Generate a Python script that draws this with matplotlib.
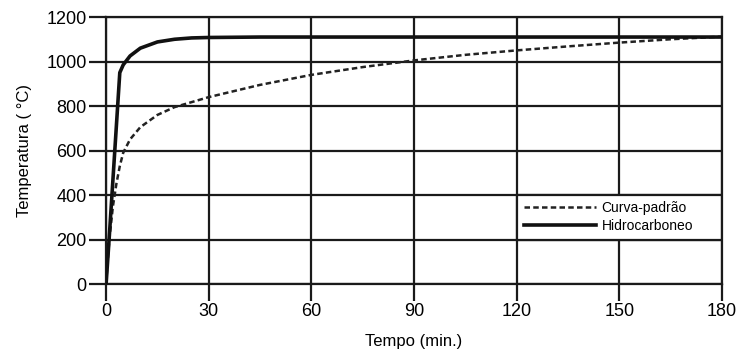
import matplotlib
matplotlib.use("Agg")
from matplotlib import pyplot as plt
from matplotlib.patches import Rectangle

plt.rcParams['font.family'] = ['Liberation Sans Narrow', 'Liberation Sans', 'DejaVu Sans']

# Curva-padrão (standard fire curve)
padrao_t = [0, 0.5, 1, 2, 3, 4, 5, 7, 10, 15, 20, 30, 45, 60, 75, 90, 105, 120, 135, 150, 165, 180]
padrao_T = [0, 110, 210, 350, 450, 530, 590, 650, 705, 760, 795, 840, 895, 940, 975, 1005, 1030, 1050, 1068, 1085, 1100, 1112]

# Hidrocarboneto curve
hidro_t = [0, 1, 2, 3, 4, 5, 7, 10, 15, 20, 25, 30, 45, 60, 90, 120, 150, 180]
hidro_T = [0, 230, 470, 710, 950, 985, 1025, 1060, 1088, 1100, 1106, 1108, 1110, 1110, 1110, 1110, 1110, 1110]

x_ticks = [0, 30, 60, 90, 120, 150, 180]
y_ticks = [0, 200, 400, 600, 800, 1000, 1200]

fig = plt.figure(figsize=(7.42, 3.56), dpi=100)
ax = fig.add_axes([0.143, 0.2022, 0.830, 0.750])

ax.set_xlim(0, 180)
ax.set_ylim(0, 1200)
ax.set_xticks(x_ticks)
ax.set_yticks(y_ticks)
ax.grid(True, color="#1a1a1a", linewidth=1.6, zorder=1)
ax.set_axisbelow(True)
for s in ax.spines.values():
    s.set_color("#1a1a1a")
    s.set_linewidth(1.6)
ax.tick_params(axis="both", length=12, width=1.6, color="#1a1a1a", labelsize=13, pad=2)

# white cell behind legend (hides the 150 gridline there)
ax.add_patch(Rectangle((120, 200), 60, 200, facecolor="white", edgecolor="#1a1a1a",
                       linewidth=1.6, zorder=1.5))

ax.plot(padrao_t, padrao_T, color="#222222", linewidth=1.8, linestyle=(0, (2.2, 1.3)),
        label="Curva-padrão", zorder=3)
ax.plot(hidro_t, hidro_T, color="#111111", linewidth=2.6, label="Hidrocarboneo", zorder=4)

leg = ax.legend(loc="center left", bbox_to_anchor=(120.5, 300), bbox_transform=ax.transData,
                frameon=False, fontsize=10, handlelength=5.2, handletextpad=0.4,
                labelspacing=0.3, borderaxespad=0)
leg.set_zorder(5)

ax.set_xlabel("Tempo (min.)", fontsize=12, labelpad=10)
ax.set_ylabel("Temperatura ( °C)", fontsize=12, labelpad=10)

fig.savefig("out.png", dpi=100)
